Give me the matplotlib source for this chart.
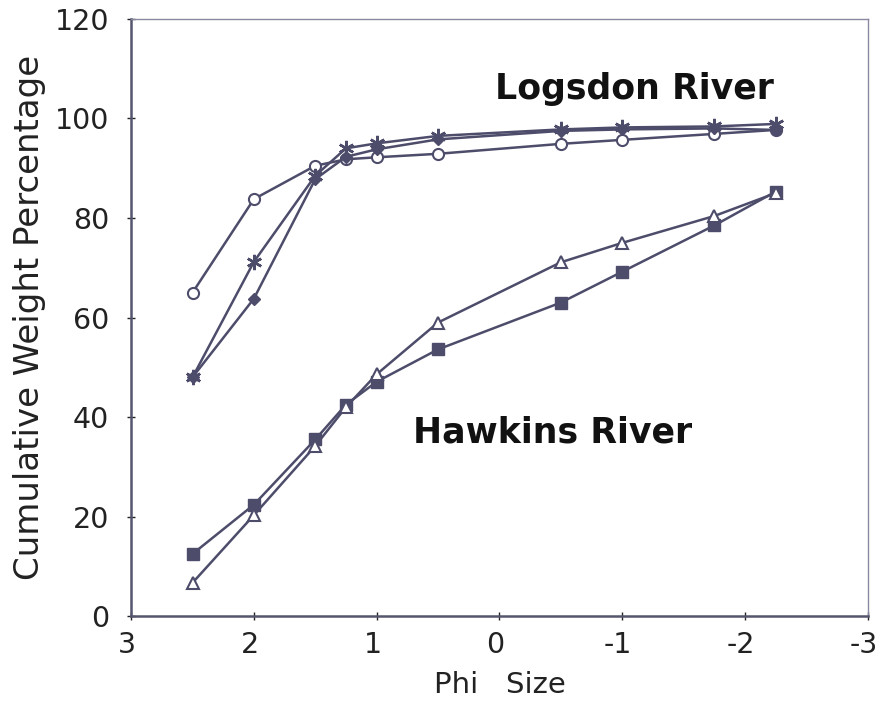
import matplotlib
matplotlib.use("Agg")
import matplotlib.pyplot as plt
from matplotlib.transforms import ScaledTranslation

phi = [2.5, 2.0, 1.5, 1.25, 1.0, 0.5, -0.5, -1.0, -1.75, -2.25]

logsdon_circle = [65.0, 83.8, 90.5, 91.8, 92.2, 92.9, 94.9, 95.7, 96.9, 97.7]
logsdon_star = [48.0, 71.2, 88.5, 94.0, 95.0, 96.5, 97.8, 98.2, 98.4, 98.9]
logsdon_diamond = [48.0, 63.8, 87.8, 92.3, 93.8, 95.8, 97.5, 97.8, 98.0, 97.7]

hawkins_square = [12.5, 22.4, 35.5, 42.5, 47.1, 53.6, 63.0, 69.2, 78.5, 85.3]
hawkins_triangle = [6.7, 20.3, 34.2, 42.0, 48.6, 59.0, 71.1, 75.0, 80.4, 85.0]

xticks = [3, 2, 1, 0, -1, -2, -3]
yticks = [0, 20, 40, 60, 80, 100, 120]

col = '#4d4d6b'
plt.rcParams['font.family'] = ['DejaVu Sans']

fig = plt.figure(figsize=(8.8, 7.01), dpi=100)
ax = fig.add_axes([0.149, 0.121, 0.837, 0.852])

lw = 1.8
ax.plot(phi, logsdon_circle, color=col, lw=lw, marker='o', ms=8, mfc='white', mec=col, mew=1.5)
ax.plot(phi, logsdon_diamond, color=col, lw=lw, marker='D', ms=6, mfc=col, mec=col)
ax.plot(phi, logsdon_star, color=col, lw=lw, marker=(6, 2, 0), ms=11, mec=col, mew=1.8)
ax.plot(phi, hawkins_square, color=col, lw=lw, marker='s', ms=8.5, mfc=col, mec=col)
ax.plot(phi, hawkins_triangle, color=col, lw=lw, marker='^', ms=9, mfc='white', mec=col, mew=1.5)

ax.set_xlim(3, -3)
ax.set_ylim(0, 120)
ax.set_xticks(xticks)
ax.set_xticklabels([str(t) for t in xticks])
ax.set_yticks(yticks)

ax.text(-1.1, 106, 'Logsdon River', fontsize=25, fontweight='bold', ha='center', va='center', color='#111111')
ax.text(-0.43, 37, 'Hawkins River', fontsize=25, fontweight='bold', ha='center', va='center', color='#111111')

ax.set_xlabel('Phi   Size', fontsize=21, color='#222222', labelpad=8)
ax.set_ylabel('Cumulative Weight Percentage', fontsize=24.5, color='#222222', labelpad=6)

ax.tick_params(axis='both', labelsize=20.5, colors='#222222', direction='inout', length=6, width=1)
ax.tick_params(axis='x', pad=8)
ax.tick_params(axis='y', pad=13)

shift = ScaledTranslation(-4 / 100, 0, fig.dpi_scale_trans)
for lab in ax.get_xticklabels():
    lab.set_transform(lab.get_transform() + shift)

for s in ['left', 'bottom']:
    ax.spines[s].set_color('#55556f')
    ax.spines[s].set_linewidth(1.8)
for s in ['top', 'right']:
    ax.spines[s].set_color('#8888a0')
    ax.spines[s].set_linewidth(1.0)

fig.savefig('out.png', dpi=100, facecolor='white')
